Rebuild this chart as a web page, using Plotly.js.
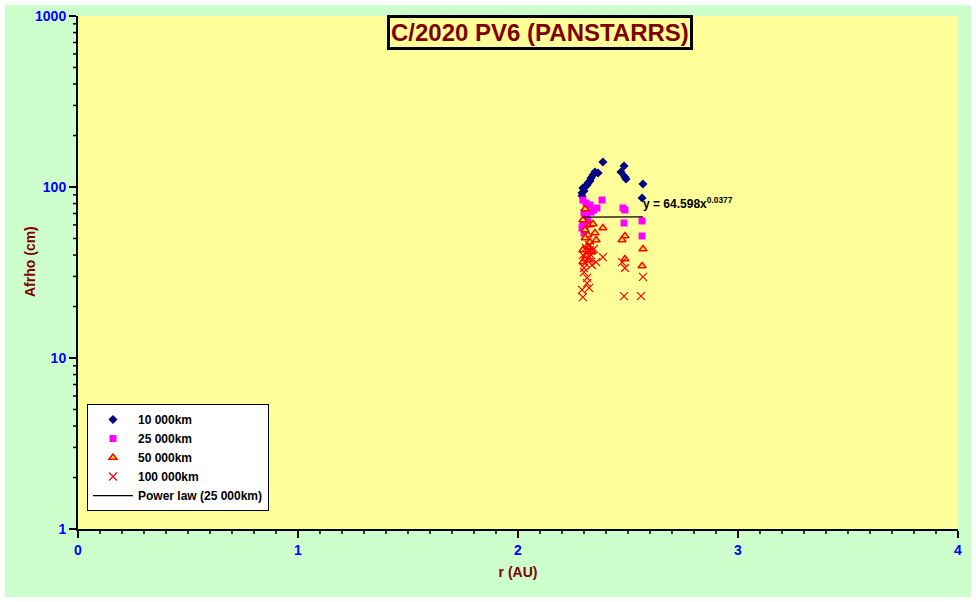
<!DOCTYPE html>
<html><head><meta charset="utf-8">
<script src="https://cdn.plot.ly/plotly-3.0.1.min.js"></script>
<style>html,body{margin:0;padding:0;background:#fff;}#chart{width:976px;height:602px;}</style>
</head><body><div id="chart"></div>
<script>
// 10 000 km aperture
const r10 = [2.291,2.291,2.300,2.295,2.305,2.314,2.318,2.327,2.332,2.341,2.350,2.364,2.386,2.482,2.468,2.486,2.491,2.568,2.564];
const a10 = [88.6,92.2,94.8,98.7,100.0,102.7,105.5,108.4,112.9,117.5,122.4,120.7,140.0,132.7,122.4,114.4,111.4,104.1,86.3];
// 25 000 km aperture
const r25 = [2.295,2.309,2.327,2.345,2.359,2.382,2.300,2.314,2.295,2.305,2.318,2.300,2.477,2.486,2.482,2.564,2.564,2.332,2.291];
const a25 = [83.9,80.6,78.5,73.4,75.4,83.9,70.5,65.9,59.9,56.8,62.4,53.8,75.4,73.4,61.6,63.3,51.7,71.4,57.6];
// 50 000 km aperture
const r50 = [2.305,2.295,2.327,2.341,2.386,2.305,2.350,2.318,2.305,2.327,2.314,2.295,2.336,2.309,2.295,2.486,2.473,2.568,2.486,2.564,2.355,2.323];
const a50 = [74.3,64.1,59.9,60.8,57.6,56.1,53.8,52.4,50.3,47.7,44.6,42.8,41.7,39.5,36.4,51.7,49.0,43.4,37.9,34.5,49.0,37.4];
// 100 000 km aperture
const r100 = [2.295,2.323,2.314,2.300,2.305,2.318,2.332,2.355,2.386,2.309,2.327,2.295,2.300,2.314,2.336,2.473,2.486,2.568,2.482,2.559,2.291,2.323,2.345];
const a100 = [22.7,25.7,29.4,31.8,35.9,38.4,40.0,36.4,38.9,44.0,42.8,40.0,33.6,27.4,35.0,36.4,33.6,29.8,23.0,23.0,25.0,45.8,43.4];
// power law trend (25 000 km)
const rTrend = [2.295,2.386,2.568];
const aTrend = [66.6,66.7,66.9];
const trendLabel = "y = 64.598x<sup>0.0377</sup>";
const titleText = "C/2020 PV6 (PANSTARRS)";
const xTitle = "r (AU)";
const yTitle = "Afrho (cm)";
const yMinorTicks = [2,3,4,5,6,7,8,9,20,30,40,50,60,70,80,90,200,300,400,500,600,700,800,900];

const FONT = "Arial, 'Liberation Sans', sans-serif";
const PW = 880, PH = 513; // plot area size in px
const X_RANGE = [0,4], Y_RANGE = [0,3];
const traces = [
  {x:r10, y:a10, mode:'markers', type:'scatter', name:'10 000km',
   marker:{symbol:'diamond', size:7, color:'#000080'}},
  {x:r25, y:a25, mode:'markers', type:'scatter', name:'25 000km',
   marker:{symbol:'square', size:7, color:'#FF00FF'}},
  {x:r50, y:a50, mode:'markers', type:'scatter', name:'50 000km',
   marker:{symbol:'triangle-up', size:7, color:'#FFFF00', line:{color:'#FF0000', width:1.5}}},
  {x:r100, y:a100, mode:'markers', type:'scatter', name:'100 000km',
   marker:{symbol:'x-thin', size:8, color:'#FF0000', line:{color:'#FF0000', width:1.2}}},
  {x:rTrend, y:aTrend, mode:'lines', type:'scatter', name:'Power law (25 000km)',
   line:{color:'#000000', width:1.2}}
];

// minor tick marks drawn as paper shapes along the axes
const fx = v => (v - X_RANGE[0]) / (X_RANGE[1] - X_RANGE[0]);
const fy = v => (Math.log10(v) - Y_RANGE[0]) / (Y_RANGE[1] - Y_RANGE[0]);
const tickShapes = [];
const xMinorTicks = [];
for (let i = 1; i < 40; i++) if (i % 10) xMinorTicks.push(i / 10);
const tk = {color:'#000000', width:1.5};
xMinorTicks.forEach(v => tickShapes.push({type:'line', layer:'above', xref:'paper', yref:'paper', x0:fx(v), x1:fx(v), y0:0, y1:-5/PH, line:tk}));
yMinorTicks.forEach(v => tickShapes.push({type:'line', layer:'above', xref:'paper', yref:'paper', x0:0, x1:-5/PW, y0:fy(v), y1:fy(v), line:tk}));

const layout = {
  width:976, height:602,
  margin:{l:78, r:18, t:16, b:73},
  paper_bgcolor:'#FFFFFF',
  plot_bgcolor:'#FFFF99',
  font:{family:FONT},
  showlegend:true,
  legend:{x:0.0102, y:0.035, xanchor:'left', yanchor:'bottom',
    bgcolor:'#FFFFFF', bordercolor:'#000000', borderwidth:1,
    font:{family:FONT, size:12, color:'#000000', weight:'bold'},
    tracegroupgap:0, itemwidth:40},
  xaxis:{range:X_RANGE, dtick:1, tick0:0, showgrid:false, zeroline:false,
    showline:true, linecolor:'#000000', linewidth:2,
    ticks:'outside', ticklen:7, tickwidth:2, tickcolor:'#000000',
    tickfont:{family:FONT, size:14, color:'#0000FF', weight:'bold'},
    title:{text:xTitle, font:{family:FONT, size:14, color:'#800000', weight:'bold'}, standoff:10}},
  yaxis:{type:'log', range:Y_RANGE, dtick:1, showgrid:false, zeroline:false,
    showline:true, linecolor:'#000000', linewidth:2,
    ticks:'outside', ticklen:7, tickwidth:2, tickcolor:'#000000',
    tickfont:{family:FONT, size:14, color:'#0000FF', weight:'bold'}},
  shapes:[
    {type:'rect', xref:'paper', yref:'paper', layer:'below',
     x0:(5-78)/PW, x1:(971-78)/PW, y0:(529-597)/PH, y1:(529-5)/PH,
     fillcolor:'#CCFFCC', line:{width:0}},
    {type:'rect', xref:'paper', yref:'paper', layer:'below',
     x0:0, x1:1, y0:0, y1:1, fillcolor:'#FFFF99', line:{width:0}}
  ].concat(tickShapes),
  annotations:[
    {xref:'paper', yref:'paper', x:0.525, y:0.967, xanchor:'center', yanchor:'middle',
     text:'<b>'+titleText+'</b>', showarrow:false,
     font:{family:FONT, size:24, color:'#800000'},
     bgcolor:'#FFFF99', bordercolor:'#000000', borderwidth:3, borderpad:1},
    {xref:'paper', yref:'paper', x:(30-78)/PW, y:(529-262)/PH, xanchor:'center', yanchor:'middle',
     text:'<b>'+yTitle+'</b>', textangle:-90, showarrow:false,
     font:{family:FONT, size:14, color:'#800000'}},
    {xref:'x', yref:'y', x:2.559, y:Math.log10(80.6), xanchor:'left', yanchor:'middle',
     text:'<b>'+trendLabel+'</b>', showarrow:false,
     font:{family:FONT, size:12, color:'#000000'}}
  ]
};
Plotly.newPlot('chart', traces, layout, {displayModeBar:false, staticPlot:true});
</script></body></html>
